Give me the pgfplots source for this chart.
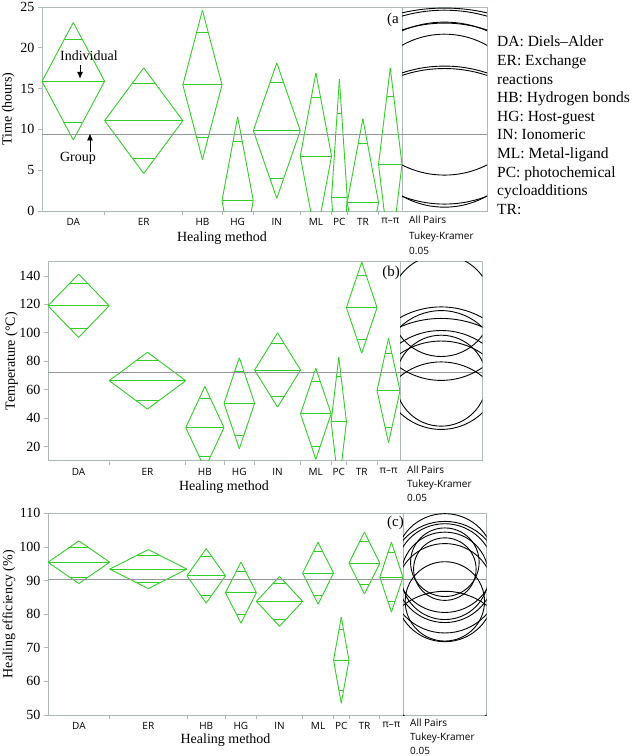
\documentclass[border=0pt]{standalone}
\usepackage{fontspec}
\setmainfont{Liberation Serif}
\newfontfamily\tickfont{Open Sans}
\usepackage{pgfplots}
\usepackage{pgfplotstable}
\pgfplotsset{compat=1.18}
\usetikzlibrary{arrows.meta}
\definecolor{framec}{RGB}{172,186,186}
\definecolor{grp}{RGB}{145,150,150}
\definecolor{dgreen}{RGB}{50,205,40}

% c = category centre, w = half width (prop. to n), m = mean, h = 95% CI half-height, r = comparison circle radius
\pgfplotstableread{
cat c w m h r
DA 4 4 15.90 7.20 11.5
ER 13 5 11.07 6.47 10.6
HB 20.5 2.5 15.45 9.15 14.6
HG 25 2 1.26 10.28 16.5
IN 30 3 9.85 8.30 13.3
ML 35 2 6.73 10.20 16.3
PC 38 1 1.67 14.50 23.2
TR 41 2 1.06 10.24 16.4
pp 44.5 1.5 5.71 11.83 18.9
}\tabA
\pgfplotstableread{
cat c w m h r
DA 4 4 119.0 22.3 35.7
ER 13 5 66.3 20.0 32.0
HB 20.5 2.5 33.3 28.9 46.2
HG 25 2 50.4 32.0 51.2
IN 30 3 73.8 26.1 41.8
ML 35 2 43.0 32.0 51.2
PC 38 1 37.3 45.5 72.8
TR 41 2 117.7 32.0 51.2
pp 44.5 1.5 59.3 36.8 58.9
}\tabB
\pgfplotstableread{
cat c w m h r
DA 4 4 95.45 6.35 10.2
ER 13 5 93.4 5.8 9.3
HB 20.5 2.5 91.4 8.1 13.0
HG 25 2 86.4 9.1 14.6
IN 30 3 83.8 7.4 11.8
ML 35 2 92.2 9.2 14.7
PC 38 1 66.3 12.8 20.5
TR 41 2 95.2 9.2 14.7
pp 44.5 1.5 91.0 10.4 16.6
}\tabC

\pgfplotsset{
  main/.style={scale only axis, xmin=0, xmax=46,
    axis line style={draw=framec, line width=0.8pt},
    xtick={4,13,20.5,25,30,35,38,41,44.5},
    xticklabels={DA,ER,HB,HG,IN,ML,PC,TR,π–π},
    major x tick style={draw=none},
    minor xtick={8,18,23,27,33,37,39,43},
    minor tick length=4pt, major tick length=4pt,
    tick align=outside, xtick pos=left, ytick pos=left,
    tick style={draw=framec, line width=0.8pt},
    xticklabel style={font=\tickfont\fontsize{10}{12}\selectfont},
    yticklabel style={font=\fontsize{14}{16}\selectfont},
    /pgf/number format/assume math mode=true,
    xlabel={Healing method},
    label style={font=\fontsize{14}{16}\selectfont},
    y label style={anchor=center},
    x label style={at={(axis description cs:0.5,0)}, anchor=center},
  },
  circ/.style={scale only axis, axis line style={draw=framec, line width=0.8pt},
    xtick=\empty, ytick=\empty},
  dia/.style={dgreen, line width=0.9pt, no markers},
  grpline/.style={grp, line width=1.3pt, no markers},
}

\newcommand\diamonds[1]{%
 \addplot[dia, quiver={u=\thisrow{w},v=\thisrow{h}}] table[x expr=\thisrow{c}-\thisrow{w}, y=m]{#1};
 \addplot[dia, quiver={u=-\thisrow{w},v=\thisrow{h}}] table[x expr=\thisrow{c}+\thisrow{w}, y=m]{#1};
 \addplot[dia, quiver={u=\thisrow{w},v=-\thisrow{h}}] table[x expr=\thisrow{c}-\thisrow{w}, y=m]{#1};
 \addplot[dia, quiver={u=-\thisrow{w},v=-\thisrow{h}}] table[x expr=\thisrow{c}+\thisrow{w}, y=m]{#1};
 \addplot[dia, quiver={u=2*\thisrow{w},v=0}] table[x expr=\thisrow{c}-\thisrow{w}, y=m]{#1};
 \addplot[dia, quiver={u=0.5858*\thisrow{w},v=0}] table[x expr=\thisrow{c}-0.2929*\thisrow{w}, y expr=\thisrow{m}+0.7071*\thisrow{h}]{#1};
 \addplot[dia, quiver={u=0.5858*\thisrow{w},v=0}] table[x expr=\thisrow{c}-0.2929*\thisrow{w}, y expr=\thisrow{m}-0.7071*\thisrow{h}]{#1};
}
\newcommand\circles[1]{%
  \pgfplotsinvokeforeach{0,...,8}{%
    \pgfplotstablegetelem{##1}{m}\of#1\edef\cmm{\pgfplotsretval}%
    \pgfplotstablegetelem{##1}{r}\of#1\edef\crr{\pgfplotsretval}%
    \edef\tmp{\noexpand\draw[black,line width=0.9pt] (axis cs:0,\cmm) ellipse [x radius=\crr, y radius=\crr];}\tmp
  }}

\begin{document}
\begin{tikzpicture}
\useasboundingbox (0,0) rectangle (636pt,-756pt);
% ---------------- panel (a)
\begin{axis}[main, name=ma, at={(42pt,-211pt)}, anchor=south west, width=360pt, height=204pt,
  ymin=0, ymax=25, ytick={0,5,...,25}, ylabel={Time (hours)},
  y label style={at={(axis description cs:-0.094,0.5)}},
  x label style={yshift=-27pt}]
\diamonds{\tabA}
\addplot[grpline] coordinates {(0,9.34) (46,9.34)};
\node[font=\fontsize{14}{16}\selectfont] at (axis cs:6.0,19.0) {Individual};
\draw[-{Latex[length=7pt,width=6pt]}, line width=0.8pt] (axis cs:4.86,17.9) -- (axis cs:4.86,16.2);
\node[font=\fontsize{14}{16}\selectfont] at (axis cs:4.6,6.4) {Group};
\draw[-{Latex[length=7pt,width=6pt]}, line width=0.8pt] (axis cs:6.13,7.23) -- (axis cs:6.13,9.5);
\end{axis}
\begin{axis}[circ, name=ca, at={(402pt,-211pt)}, anchor=south west, width=85pt, height=204pt,
  xmin=-5.21, xmax=5.21, ymin=0, ymax=25]
\addplot[grpline] coordinates {(-6,9.34) (6,9.34)};
\circles{\tabA}
\end{axis}
\node[anchor=east, inner sep=0, font=\fontsize{15}{17}\selectfont] at ([shift={(-3pt,-13pt)}]ma.north east) {(a};
\node[anchor=north west, align=left, inner sep=0, font=\tickfont\fontsize{10}{15.5}\selectfont] at ([shift={(7pt,-5pt)}]ca.south west) {All Pairs\\Tukey-Kramer\\0.05};
\node[anchor=north west, align=left, inner sep=0, font=\fontsize{15.5}{18.6}\selectfont] at (497pt,-36pt)
 {DA: Diels–Alder\\ER: Exchange\\reactions\\HB: Hydrogen bonds\\HG: Host-guest\\IN: Ionomeric\\ML: Metal-ligand\\PC: photochemical\\cycloadditions\\TR:};
% ---------------- panel (b)
\begin{axis}[main, name=mb, at={(48pt,-460.7pt)}, anchor=south west, width=352pt, height=199pt,
  ymin=10, ymax=150, ytick={20,40,...,140}, ylabel={Temperature (°C)},
  y label style={at={(axis description cs:-0.104,0.5)}},
  x label style={yshift=-26pt}]
\diamonds{\tabB}
\addplot[grpline] coordinates {(0,72.0) (46,72.0)};
\end{axis}
\begin{axis}[circ, name=cb, at={(400pt,-460.7pt)}, anchor=south west, width=82.3pt, height=199pt,
  xmin=-28.95, xmax=28.95, ymin=10, ymax=150]
\addplot[grpline] coordinates {(-30,72.0) (30,72.0)};
\circles{\tabB}
\end{axis}
\node[anchor=east, inner sep=0, font=\fontsize{15}{17}\selectfont] at ([shift={(0pt,-11.5pt)}]mb.north east) {(b)};
\node[anchor=north west, align=left, inner sep=0, font=\tickfont\fontsize{10}{14}\selectfont] at ([shift={(7pt,-4.5pt)}]cb.south west) {All Pairs\\Tukey-Kramer\\0.05};
% ---------------- panel (c)
\begin{axis}[main, name=mc, at={(48pt,-715pt)}, anchor=south west, width=355pt, height=201.7pt,
  ymin=50, ymax=110, ytick={50,60,...,110}, ylabel={Healing efficiency (\%)},
  y label style={at={(axis description cs:-0.11,0.5)}},
  x label style={yshift=-25pt}]
\diamonds{\tabC}
\addplot[grpline] coordinates {(0,90.28) (46,90.28)};
\end{axis}
\begin{axis}[circ, name=cc, at={(403pt,-715pt)}, anchor=south west, width=83.7pt, height=201.7pt,
  xmin=-12.45, xmax=12.45, ymin=50, ymax=110]
\addplot[grpline] coordinates {(-13,90.28) (13,90.28)};
\circles{\tabC}
\end{axis}
\node[anchor=east, inner sep=0, font=\fontsize{15}{17}\selectfont] at ([shift={(1pt,-10pt)}]mc.north east) {(c)};
\node[anchor=north west, align=left, inner sep=0, font=\tickfont\fontsize{10}{14}\selectfont] at ([shift={(7pt,-4pt)}]cc.south west) {All Pairs\\Tukey-Kramer\\0.05};
\end{tikzpicture}
\end{document}
